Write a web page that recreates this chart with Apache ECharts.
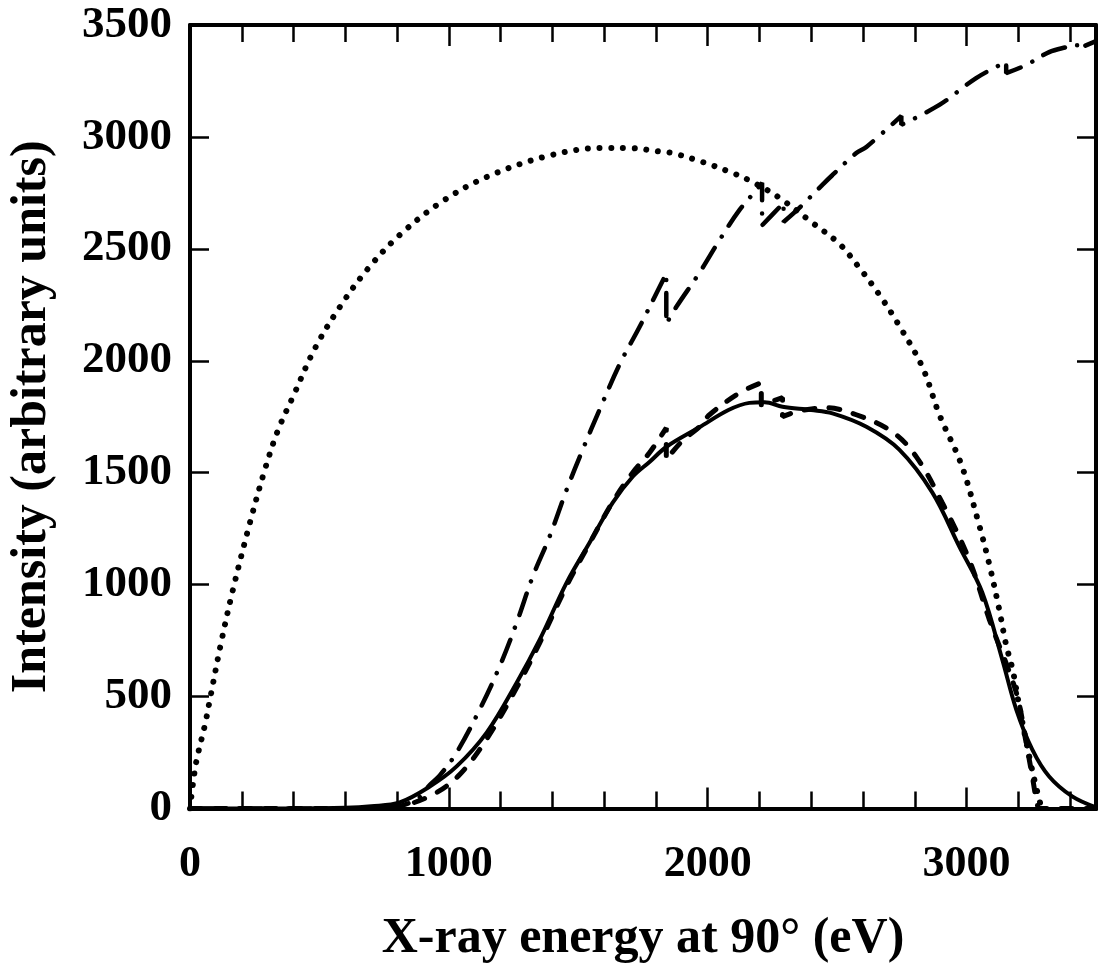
<!DOCTYPE html>
<html>
<head>
<meta charset="utf-8">
<script src="https://cdn.jsdelivr.net/npm/echarts@6/dist/echarts.min.js"></script>
<style>
  html, body { margin: 0; padding: 0; background: #fff; }
  #chart { width: 1098px; height: 963px; }
</style>
</head>
<body>
<div id="chart"></div>
<script>
// ---- tick labels ----
const xTickLabels = [0, 1000, 2000, 3000];
const yTickLabels = [0, 500, 1000, 1500, 2000, 2500, 3000, 3500];

// ---- dotted curve ----
const dottedX = [0, 12, 26, 58, 77, 120, 166, 230, 289, 340, 398, 482, 579, 687, 810, 972, 1146, 1382, 1594, 1700, 1814, 1864, 1980, 2096, 2173, 2277, 2405, 2509, 2586, 2663, 2733, 2829, 2895, 2980, 3049, 3088, 3126, 3153, 3178, 3200, 3225, 3250, 3272, 3290];
const dottedY = [0, 116, 219, 375, 487, 740, 978, 1270, 1513, 1690, 1840, 2054, 2241, 2411, 2562, 2710, 2821, 2915, 2951, 2950, 2935, 2928, 2888, 2839, 2799, 2728, 2616, 2522, 2415, 2295, 2170, 1973, 1759, 1536, 1265, 1090, 890, 730, 620, 480, 330, 190, 80, 0];

// ---- dash-dot curve ----
const dashDotX = [0, 700, 800, 880, 926, 965, 1030, 1119, 1196, 1262, 1324, 1389, 1455, 1517, 1582, 1660, 1737, 1814, 1840, 1840, 1879, 1968, 2046, 2123, 2188, 2210, 2210, 2293, 2293, 2354, 2443, 2482, 2574, 2613, 2748, 2748, 2895, 3037, 3153, 3153, 3230, 3319, 3389, 3427, 3427, 3500];
const dashDotY = [0, 0, 8, 45, 105, 148, 250, 442, 634, 830, 1036, 1214, 1424, 1603, 1781, 1985, 2152, 2330, 2390, 2165, 2241, 2393, 2540, 2674, 2763, 2795, 2605, 2705, 2620, 2683, 2786, 2830, 2928, 2955, 3094, 3054, 3143, 3263, 3335, 3285, 3321, 3379, 3402, 3412, 3392, 3428];

// ---- solid curve ----
const solidX = [0, 400, 600, 700, 810, 926, 1030, 1146, 1262, 1351, 1455, 1544, 1633, 1710, 1775, 1841, 1968, 2080, 2161, 2220, 2289, 2400, 2482, 2613, 2740, 2868, 2972, 3061, 3138, 3192, 3254, 3319, 3408, 3500];
const solidY = [0, 0, 3, 10, 27, 98, 188, 339, 562, 754, 1009, 1188, 1366, 1482, 1548, 1616, 1703, 1780, 1812, 1815, 1795, 1780, 1765, 1705, 1603, 1411, 1170, 964, 665, 442, 263, 143, 54, 5];

// ---- dashed curve ----
const dashedX = [0, 500, 700, 800, 938, 1042, 1146, 1262, 1351, 1455, 1544, 1633, 1710, 1775, 1840, 1840, 1900, 1968, 2007, 2123, 2207, 2207, 2289, 2289, 2350, 2458, 2574, 2713, 2806, 2906, 3010, 3088, 3192, 3230, 3254, 3275, 3285, 3500];
const dashedY = [0, 0, 2, 8, 62, 152, 310, 540, 740, 995, 1185, 1370, 1500, 1589, 1700, 1558, 1640, 1705, 1759, 1857, 1902, 1804, 1835, 1750, 1775, 1790, 1759, 1683, 1571, 1366, 1112, 844, 518, 295, 143, 9, 0, 0];

const zip = (xs, ys) => xs.map((x, i) => [x, ys[i]]);

const FONT = '"Liberation Serif", "Times New Roman", serif';
const BLACK = '#000';

const tickStyle = { color: BLACK, width: 2.5 };
const lineStyleAxis = { show: true, onZero: false, lineStyle: { color: BLACK, width: 4 } };

function xAx(position, interval, len, showLine, showLabel) {
  return {
    type: 'value', position, min: 0, max: 3500, interval,
    axisLine: showLine ? lineStyleAxis : { show: false, onZero: false },
    axisTick: { show: true, inside: true, length: len, lineStyle: tickStyle },
    axisLabel: showLabel ? {
      show: true, margin: 34, color: BLACK, fontFamily: FONT, fontWeight: 'bold', fontSize: 44,
      formatter: v => xTickLabels.includes(v) ? String(v) : ''
    } : { show: false },
    splitLine: { show: false },
    name: showLabel ? 'X-ray energy at 90° (eV)' : '',
    nameLocation: 'middle', nameGap: 106,
    nameTextStyle: { color: BLACK, fontFamily: FONT, fontWeight: 'bold', fontSize: 50 }
  };
}

function yAx(position, showLabel) {
  return {
    type: 'value', position, min: 0, max: 3500, interval: 500,
    axisLine: lineStyleAxis,
    axisTick: { show: true, inside: true, length: 19, lineStyle: tickStyle },
    axisLabel: showLabel ? {
      show: true, margin: 18, color: BLACK, fontFamily: FONT, fontWeight: 'bold', fontSize: 45,
      formatter: v => yTickLabels.includes(v) ? String(v) : ''
    } : { show: false },
    splitLine: { show: false },
    name: showLabel ? 'Intensity (arbitrary units)' : '',
    nameLocation: 'middle', nameGap: 133, nameRotate: 90,
    nameTextStyle: { color: BLACK, fontFamily: FONT, fontWeight: 'bold', fontSize: 50 }
  };
}

const baseSeries = { type: 'line', xAxisIndex: 0, yAxisIndex: 0, showSymbol: false, symbol: 'none',
  smooth: 0.35, clip: true, z: 3 };

const option = {
  animation: false,
  backgroundColor: '#fff',
  grid: { left: 190, right: 2, top: 25, bottom: 154.5, containLabel: false, outerBoundsMode: 'none' },
  xAxis: [
    xAx('bottom', 200, 17, true, true),
    xAx('bottom', 1000, 21, false, false),
    xAx('top', 200, 17, true, false),
    xAx('top', 1000, 21, false, false)
  ],
  yAxis: [yAx('left', true), yAx('right', false)],
  series: [
    Object.assign({}, baseSeries, { name: 'Dotted', data: zip(dottedX, dottedY),
      lineStyle: { color: BLACK, width: 6, type: [0.01, 11.7], cap: 'round' } }),
    Object.assign({}, baseSeries, { name: 'Dash-dot', data: zip(dashDotX, dashDotY),
      lineStyle: { color: BLACK, width: 4.5, type: [23, 13, 0.01, 13], cap: 'round' } }),
    Object.assign({}, baseSeries, { name: 'Dashed', data: zip(dashedX, dashedY),
      lineStyle: { color: BLACK, width: 5, type: [11, 14], cap: 'round' } }),
    Object.assign({}, baseSeries, { name: 'Solid', data: zip(solidX, solidY),
      lineStyle: { color: BLACK, width: 4, type: 'solid', cap: 'round' } })
  ]
};

const chart = echarts.init(document.getElementById('chart'), null, { renderer: 'canvas' });
chart.setOption(option);
</script>
</body>
</html>
